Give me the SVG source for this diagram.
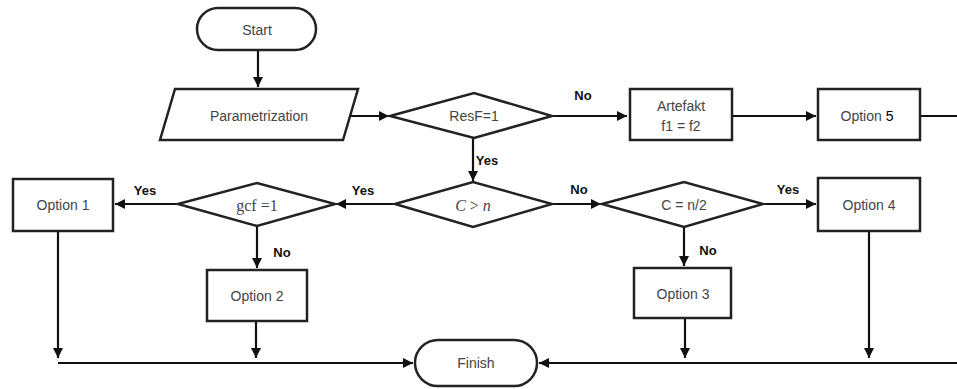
<svg xmlns="http://www.w3.org/2000/svg" width="957" height="389" viewBox="0 0 957 389">
<defs>
<marker id="ah" viewBox="0 0 10 10" refX="10" refY="5" markerWidth="10" markerHeight="10" markerUnits="userSpaceOnUse" orient="auto">
<path d="M0,0 L10,5 L0,10 z" fill="#111"/>
</marker>
<style>
.shape{fill:#fff;stroke:#222;stroke-width:2.5}
.t{font-family:"Liberation Sans",Arial,sans-serif;font-size:14px;fill:#444;text-anchor:middle;dominant-baseline:central}
.s{font-family:"Liberation Serif","Times New Roman",serif;font-size:16px;fill:#444;text-anchor:middle;dominant-baseline:central}
.lbl{font-family:"Liberation Sans",Arial,sans-serif;font-size:13px;font-weight:bold;fill:#111;text-anchor:middle;dominant-baseline:central}
.c{fill:none;stroke:#111;stroke-width:2.2}
</style>
</defs>
<rect width="957" height="389" fill="#fff"/>
<g id="connectors">
<line class="c" x1="258" y1="50" x2="258" y2="87" marker-end="url(#ah)"/>
<line class="c" x1="350" y1="116" x2="389" y2="116" marker-end="url(#ah)"/>
<line class="c" x1="552" y1="116" x2="627" y2="116" marker-end="url(#ah)"/>
<line class="c" x1="732" y1="116" x2="816" y2="116" marker-end="url(#ah)"/>
<line class="c" x1="920" y1="116" x2="957" y2="116"/>
<line class="c" x1="473" y1="138" x2="473" y2="181" marker-end="url(#ah)"/>
<line class="c" x1="395" y1="204" x2="336" y2="204" marker-end="url(#ah)"/>
<line class="c" x1="178" y1="204" x2="115" y2="204" marker-end="url(#ah)"/>
<line class="c" x1="257" y1="226" x2="257" y2="268" marker-end="url(#ah)"/>
<line class="c" x1="552" y1="204" x2="601" y2="204" marker-end="url(#ah)"/>
<line class="c" x1="763" y1="204" x2="816" y2="204" marker-end="url(#ah)"/>
<line class="c" x1="684" y1="227" x2="684" y2="266" marker-end="url(#ah)"/>
<line class="c" x1="58" y1="231" x2="58" y2="358" marker-end="url(#ah)"/>
<line class="c" x1="256" y1="321" x2="256" y2="358" marker-end="url(#ah)"/>
<line class="c" x1="685" y1="318" x2="685" y2="358" marker-end="url(#ah)"/>
<line class="c" x1="869" y1="231" x2="869" y2="358" marker-end="url(#ah)"/>
<line class="c" x1="58" y1="363" x2="413" y2="363" marker-end="url(#ah)"/>
<line class="c" x1="957" y1="363" x2="539" y2="363" marker-end="url(#ah)"/>
<text class="lbl" x="487" y="160">Yes</text>
<text class="lbl" x="583" y="95">No</text>
<text class="lbl" x="363" y="190">Yes</text>
<text class="lbl" x="145" y="190">Yes</text>
<text class="lbl" x="282" y="252">No</text>
<text class="lbl" x="579" y="189">No</text>
<text class="lbl" x="788" y="189">Yes</text>
<text class="lbl" x="708" y="250">No</text>
</g>
<g id="start">
<rect class="shape" x="197" y="8" width="119" height="42" rx="21"/>
<text class="t" x="257" y="30">Start</text>
</g>
<g id="parametrization">
<polygon class="shape" points="175,89 358,89 343,140 160,140"/>
<text class="t" x="259" y="116">Parametrization</text>
</g>
<g id="resf">
<polygon class="shape" points="390,116 474,93 552,116 474,138"/>
<text class="t" x="474" y="116">ResF=1</text>
</g>
<g id="artefakt">
<rect class="shape" x="630" y="89" width="102" height="51"/>
<text class="t" x="681" y="106">Artefakt</text>
<text class="t" x="681" y="126">f1 = f2</text>
</g>
<g id="option5">
<rect class="shape" x="818" y="89" width="102" height="51"/>
<text class="t" x="867" y="116">Option <tspan fill="#000">5</tspan></text>
</g>
<g id="cgtn">
<polygon class="shape" points="395,204 473,182 552,204 473,227"/>
<text class="s" x="473" y="205"><tspan font-style="italic">C</tspan> &gt; <tspan font-style="italic">n</tspan></text>
</g>
<g id="gcf">
<polygon class="shape" points="178,204 257,183 335,204 257,226"/>
<text class="s" x="257" y="205">gcf =1</text>
</g>
<g id="option1">
<rect class="shape" x="13" y="179" width="100" height="52"/>
<text class="t" x="63" y="205">Option 1</text>
</g>
<g id="option2">
<rect class="shape" x="207" y="270" width="100" height="51"/>
<text class="t" x="257" y="296">Option 2</text>
</g>
<g id="cn2">
<polygon class="shape" points="602,204 684,182 763,204 684,227"/>
<text class="t" x="684" y="205">C = n/2</text>
</g>
<g id="option4">
<rect class="shape" x="818" y="178" width="102" height="53"/>
<text class="t" x="869" y="205">Option 4</text>
</g>
<g id="option3">
<rect class="shape" x="634" y="268" width="97" height="50"/>
<text class="t" x="683" y="294">Option 3</text>
</g>
<g id="finish">
<rect class="shape" x="415" y="340" width="122" height="46" rx="23"/>
<text class="t" x="476" y="363">Finish</text>
</g>
</svg>
